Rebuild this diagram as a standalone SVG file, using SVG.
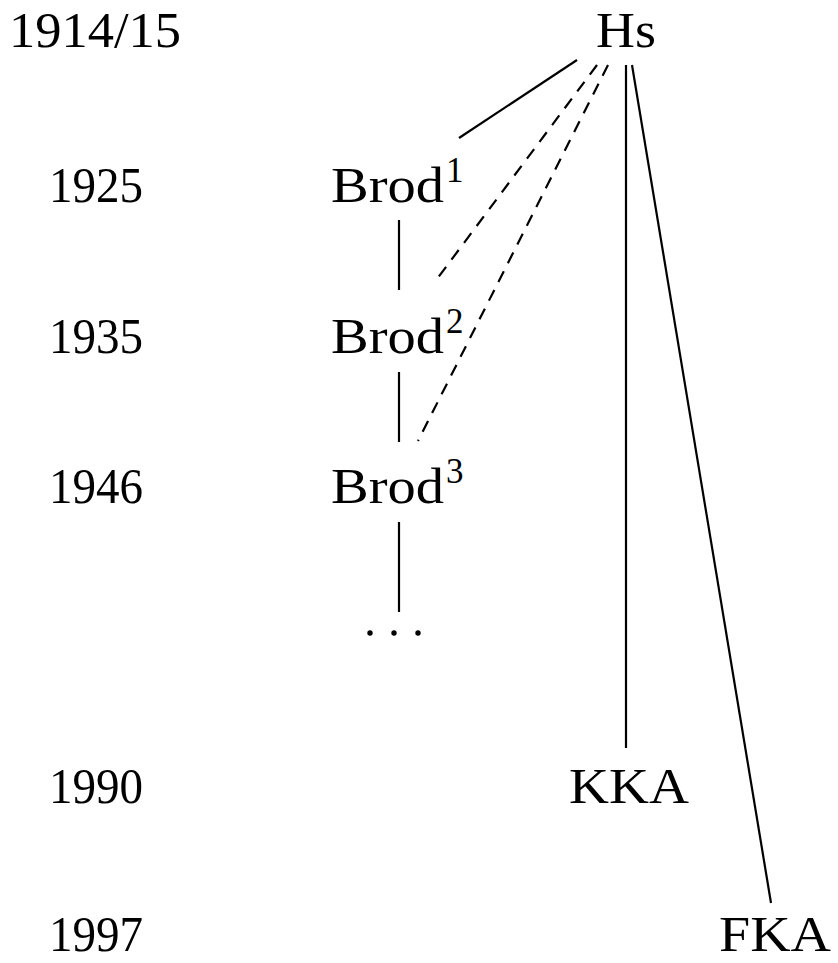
<svg xmlns="http://www.w3.org/2000/svg" width="838" height="963" viewBox="0 0 838 963">
<style>
text{font-family:"Liberation Serif","Times New Roman",serif;font-size:50px;fill:#000}
.sup{font-size:35px}
.e{stroke:#000;stroke-width:2.2;fill:none}
.d{stroke-dasharray:12 9}
</style>
<rect width="838" height="963" fill="#fff"/>
<g id="years">
<text x="9" y="47" textLength="172" lengthAdjust="spacingAndGlyphs">1914/15</text>
<text x="49" y="202" textLength="94" lengthAdjust="spacingAndGlyphs">1925</text>
<text x="49" y="353" textLength="94" lengthAdjust="spacingAndGlyphs">1935</text>
<text x="49" y="503" textLength="94" lengthAdjust="spacingAndGlyphs">1946</text>
<text x="49" y="803" textLength="94" lengthAdjust="spacingAndGlyphs">1990</text>
<text x="49" y="951" textLength="94" lengthAdjust="spacingAndGlyphs">1997</text>
</g>
<g id="connectors">
<line class="e" x1="577" y1="60" x2="459" y2="138"/>
<line class="e d" x1="597" y1="65" x2="434" y2="283"/>
<line class="e d" x1="608" y1="65" x2="418" y2="441"/>
<line class="e" x1="626" y1="65" x2="626" y2="748"/>
<line class="e" x1="632" y1="65" x2="771" y2="903"/>
<line class="e" x1="399" y1="220" x2="399" y2="290"/>
<line class="e" x1="399" y1="372" x2="399" y2="442"/>
<line class="e" x1="399" y1="522" x2="399" y2="612"/>
</g>
<g id="Hs"><text x="596" y="47" textLength="60" lengthAdjust="spacingAndGlyphs">Hs</text></g>
<g id="Brod1"><text x="331" y="202" textLength="113" lengthAdjust="spacingAndGlyphs">Brod</text><text class="sup" x="446" y="182">1</text></g>
<g id="Brod2"><text x="331" y="353" textLength="113" lengthAdjust="spacingAndGlyphs">Brod</text><text class="sup" x="446" y="333">2</text></g>
<g id="Brod3"><text x="331" y="503" textLength="113" lengthAdjust="spacingAndGlyphs">Brod</text><text class="sup" x="446" y="483">3</text></g>
<g id="dots"><circle cx="370" cy="633" r="2.7"/><circle cx="394" cy="633" r="2.7"/><circle cx="418" cy="633" r="2.7"/></g>
<g id="KKA"><text x="569" y="803" textLength="120" lengthAdjust="spacingAndGlyphs">KKA</text></g>
<g id="FKA"><text x="719" y="951" textLength="112" lengthAdjust="spacingAndGlyphs">FKA</text></g>
</svg>
